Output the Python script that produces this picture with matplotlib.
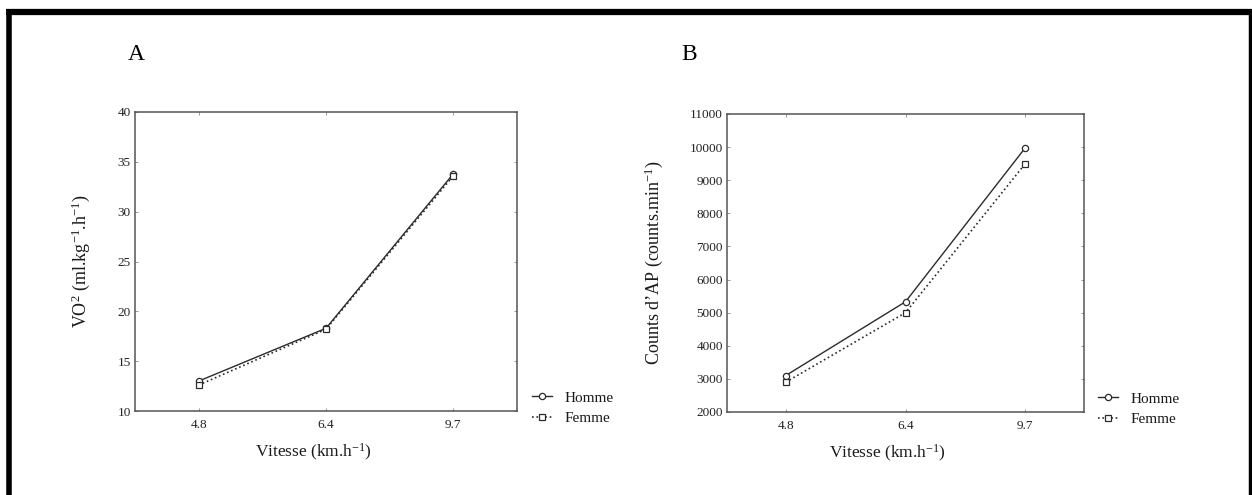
import matplotlib
matplotlib.use('Agg')
import matplotlib.pyplot as plt
from matplotlib.lines import Line2D

plt.rcParams['font.family'] = ['Liberation Serif', 'DejaVu Serif']
plt.rcParams['mathtext.fontset'] = 'custom'
plt.rcParams['mathtext.rm'] = 'Liberation Serif'
plt.rcParams['mathtext.it'] = 'Liberation Serif'

# data
vitesse = ['4.8', '6.4', '9.7']
vo2_homme = [13.0, 18.3, 33.8]
vo2_femme = [12.6, 18.2, 33.6]
counts_homme = [3100, 5330, 9980]
counts_femme = [2900, 5000, 9500]

W, H = 1252, 495
fig = plt.figure(figsize=(W / 100, H / 100), dpi=100)

line_col = '#2b2b2b'


def panel(rect, homme, femme, ylim, yticks, ylabel, xlim, ylab_x, xlab_x):
    ax = fig.add_axes(rect)
    x = range(len(vitesse))
    ax.plot(x, homme, '-', color=line_col, lw=1.0, marker='o', ms=4.5,
            mfc='white', mec=line_col, mew=0.9, label='Homme')
    ax.plot(x, femme, ':', color=line_col, lw=1.2, marker='s', ms=4.5,
            mfc='white', mec=line_col, mew=0.9, label='Femme')
    ax.set_xlim(*xlim)
    ax.set_ylim(*ylim)
    ax.set_yticks(yticks)
    ax.set_xticks(list(x))
    ax.set_xticklabels(vitesse)
    for s in ax.spines.values():
        s.set_color('#555555')
        s.set_linewidth(1.1)
    ax.tick_params(direction='in', length=2.5, width=0.6, color='#888888',
                   labelsize=9.5, labelcolor='#222222', top=True, right=True)
    ax.tick_params(axis='x', pad=6)
    ax.tick_params(axis='y', pad=3)
    ax.set_ylabel(ylabel, fontsize=13, color='#1a1a1a')
    ax.yaxis.set_label_coords(ylab_x, 0.5)
    ax.set_xlabel(r'Vitesse (km.h$^{-1}$)', fontsize=12.5, color='#1a1a1a')
    ax.xaxis.set_label_coords(xlab_x, -0.14)
    ax.xaxis.label.set_va('center')
    ax.legend(loc='center left', bbox_to_anchor=(1.04, 0.01), frameon=False,
              fontsize=11, handlelength=1.3, handletextpad=0.8,
              labelspacing=0.45, borderpad=0, borderaxespad=0,
              labelcolor='#1a1a1a')
    return ax


panel([135 / W, 84 / H, 382 / W, 299 / H], vo2_homme, vo2_femme,
      (10, 40), range(10, 41, 5), r'VO$^2$ (ml.kg$^{-1}$.h$^{-1}$)',
      (-0.5, 2.5), -0.113, 0.466)
panel([727 / W, 83 / H, 357 / W, 298 / H], counts_homme, counts_femme,
      (2000, 11000), range(2000, 11001, 1000),
      r"Counts d’AP (counts.min$^{-1}$)", (-0.49, 2.49), -0.174, 0.45)

fig.text(136 / W, 1 - 55 / H, 'A', fontsize=17, ha='center', va='center')
fig.text(689 / W, 1 - 55 / H, 'B', fontsize=17, ha='center', va='center')

# black frame around the figure (no bottom edge)
fig.add_artist(Line2D([6 / W, 1], [1 - 12 / H, 1 - 12 / H], color='black',
                      lw=4.5, transform=fig.transFigure, solid_capstyle='butt'))
fig.add_artist(Line2D([9 / W, 9 / W], [0, 1 - 9 / H], color='black',
                      lw=4.0, transform=fig.transFigure, solid_capstyle='butt'))
fig.add_artist(Line2D([1250 / W, 1250 / W], [0, 1 - 9 / H], color='black',
                      lw=2.5, transform=fig.transFigure, solid_capstyle='butt'))

fig.savefig('out.png', dpi=100)
